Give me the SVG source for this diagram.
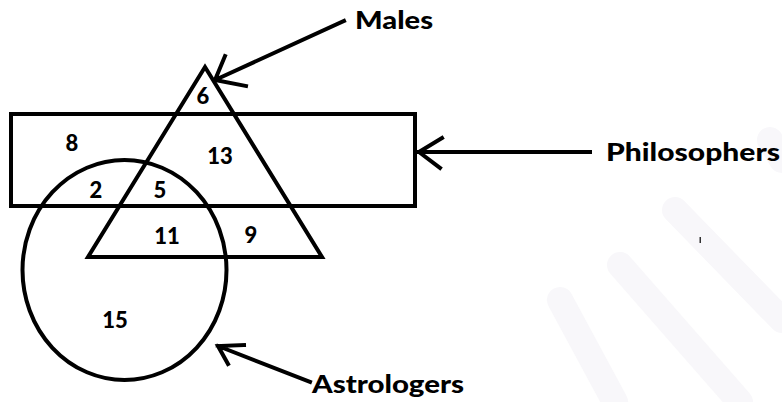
<svg xmlns="http://www.w3.org/2000/svg" width="782" height="402" viewBox="0 0 782 402">
<style>
.shape{fill:none;stroke:#000;stroke-width:4;stroke-linejoin:miter}
.conn{fill:none;stroke:#000;stroke-width:4;stroke-linecap:square}
.num{font-family:Lato,"Liberation Sans",sans-serif;font-weight:900;font-size:22px;fill:#000;text-anchor:middle}
.lbl{font-family:Lato,"Liberation Sans",sans-serif;font-weight:900;font-size:25px;fill:#000}
.wm{fill:none;stroke:#f8f7fa;stroke-width:26;stroke-linecap:round}
</style>
<rect width="782" height="402" fill="#fff"/>
<g id="watermark">
<path class="wm" d="M560 300 L615 402"/>
<path class="wm" d="M620 265 L740 402"/>
<path class="wm" d="M675 210 L782 320"/>
<path class="wm" d="M770 140 L782 160"/>
</g>
<g id="philosophers">
<rect class="shape" x="11" y="114" width="404" height="92"/>
</g>
<g id="males">
<polygon class="shape" points="205,67 322,257 88,257"/>
</g>
<g id="astrologers">
<ellipse class="shape" cx="124.5" cy="270" rx="102" ry="110"/>
</g>
<g id="regions">
<text class="num" x="72" y="151">8</text>
<text class="num" x="220" y="164">13</text>
<text class="num" x="203" y="104">6</text>
<text class="num" x="96" y="198">2</text>
<text class="num" x="160" y="198">5</text>
<text class="num" x="167" y="244">11</text>
<text class="num" x="251" y="243">9</text>
<text class="num" x="115" y="328">15</text>
</g>
<g id="connectors">
<path class="conn" d="M344 21 L215 80 M225 56 L215 80 L246 86"/>
<path class="conn" d="M590 152 L419 152 M442 138 L419 152 L440 168"/>
<path class="conn" d="M310 382 L218 346 M244 345 L218 346 L228 364"/>
</g>
<g id="labels">
<text class="lbl" x="355" y="29" textLength="78" lengthAdjust="spacingAndGlyphs">Males</text>
<text class="lbl" x="606" y="161" textLength="174" lengthAdjust="spacingAndGlyphs">Philosophers</text>
<text class="lbl" x="312" y="393" textLength="152" lengthAdjust="spacingAndGlyphs">Astrologers</text>
</g>
<rect x="699.5" y="237" width="1.5" height="6" fill="#333"/>
</svg>
